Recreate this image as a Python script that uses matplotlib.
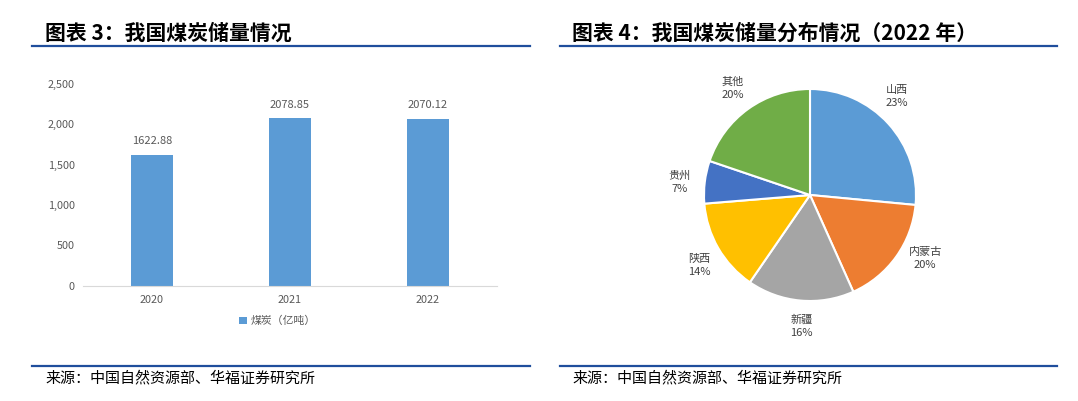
import numpy as np
import matplotlib
matplotlib.use('Agg')
import matplotlib.pyplot as plt
from matplotlib.lines import Line2D

plt.rcParams['font.family'] = ['Noto Sans CJK SC', 'DejaVu Sans']

# bar chart data
years = ['2020', '2021', '2022']
reserves = [1622.88, 2078.85, 2070.12]   # 亿吨
yticks = [0, 500, 1000, 1500, 2000, 2500]

# pie data (wedges as drawn, labels as printed)
regions = ['山西', '内蒙古', '新疆', '陕西', '贵州', '其他']
share_drawn = [26.5, 16.8, 16.3, 14.1, 6.5, 19.8]
share_label = [23, 20, 16, 14, 7, 20]
pie_colors = ['#5B9BD5', '#ED7D31', '#A5A5A5', '#FFC000', '#4472C4', '#70AD47']

W, H = 1078, 401
fig = plt.figure(figsize=(W / 100, H / 100), dpi=100)

def fx(px):
    return px / W

def fy(py):
    return 1 - py / H

navy = '#1F4E9C'
txt = '#595959'

# headers and footers
fig.text(fx(45), fy(33), '图表 3：我国煤炭储量情况', fontsize=15, fontweight='heavy',
         va='center', ha='left', color='black')
fig.text(fx(572), fy(33), '图表 4：我国煤炭储量分布情况（2022 年）', fontsize=15,
         fontweight='heavy', va='center', ha='left', color='black')
for x0, x1 in [(32, 530), (560, 1057)]:
    for yy in [46, 366]:
        fig.add_artist(Line2D([fx(x0), fx(x1)], [fy(yy), fy(yy)], color=navy, lw=1.6))
fig.text(fx(45), fy(378), '来源：中国自然资源部、华福证券研究所', fontsize=10.8,
         va='center', ha='left', color='black')
fig.text(fx(572), fy(378), '来源：中国自然资源部、华福证券研究所', fontsize=10.8,
         va='center', ha='left', color='black')

# bar chart
ax = fig.add_axes([fx(83), fy(285.7), fx(497) - fx(83), fy(84) - fy(285.7)])
x = np.arange(len(years))
bars = ax.bar(x, reserves, width=0.31, color='#5B9BD5', label='煤炭（亿吨）', zorder=2)
for b, v in zip(bars, reserves):
    ax.annotate(f'{v:.2f}', (b.get_x() + b.get_width() / 2, v), xytext=(0, 6),
                textcoords='offset points', ha='center', va='bottom', fontsize=8, color=txt)
ax.set_xlim(-0.5, 2.5)
ax.set_ylim(0, 2500)
ax.set_xticks(x)
ax.set_xticklabels(years)
ax.set_yticks(yticks)
ax.set_yticklabels([f'{v:,}' for v in yticks])
ax.tick_params(length=0, labelsize=7.8, labelcolor=txt)
ax.tick_params(axis='x', pad=7)
ax.tick_params(axis='y', pad=6)
for s in ['top', 'right', 'left']:
    ax.spines[s].set_visible(False)
ax.spines['bottom'].set_color('#D9D9D9')
leg = ax.legend(loc='center', bbox_to_anchor=(0.47, -0.175), frameon=False,
                fontsize=7.8, handlelength=0.7, handleheight=0.7, handletextpad=0.4)
for t in leg.get_texts():
    t.set_color(txt)

# pie chart
r = 106
pax = fig.add_axes([fx(810 - r), fy(195 + r), fx(2 * r), fy(195 - r) - fy(195 + r)])
pax.pie(share_drawn, colors=pie_colors, startangle=90, counterclock=False,
        wedgeprops=dict(edgecolor='white', linewidth=1.5))
pax.set_xlim(-1, 1)
pax.set_ylim(-1, 1)
pax.set_aspect('equal')
pax.axis('off')
cum = np.cumsum(share_label) - np.array(share_label) / 2
for name, s, c in zip(regions, share_label, cum):
    ang = np.deg2rad(90 - 360 * c / sum(share_label))
    pax.text(1.24 * np.cos(ang), 1.24 * np.sin(ang), f'{name}\n{s}%', ha='center',
             va='center', fontsize=8, color='#404040', linespacing=1.4, clip_on=False)

fig.savefig('out.png', dpi=100)
